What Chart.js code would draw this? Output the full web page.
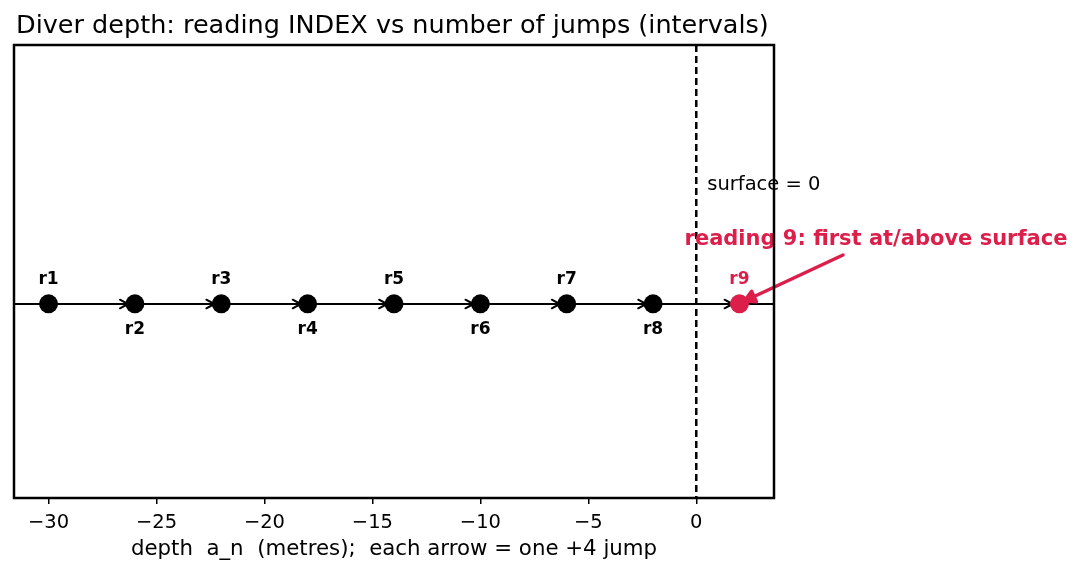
<!DOCTYPE html>
<html>
<head>
<meta charset="utf-8">
<script src="https://cdn.jsdelivr.net/npm/chart.js@4"></script>
<style>
  body { margin: 0; background: #fff; }
  #wrap { width: 1084px; height: 574px; }
</style>
</head>
<body>
<div id="wrap"><canvas id="myChart" width="1084" height="574"></canvas></div>
<script>
// readings: depth of the diver at each reading
var depths = [-30, -26, -22, -18, -14, -10, -6, -2, 2];
var readingNames = ['r1', 'r2', 'r3', 'r4', 'r5', 'r6', 'r7', 'r8', 'r9'];
var tickValues = [-30, -25, -20, -15, -10, -5, 0];
var surfaceLevel = 0;
var highlightIndex = 8;

var CRIMSON = '#dc1e4b';

var points = depths.map(function (d) { return { x: d, y: 0 }; });
var colours = depths.map(function (d, i) { return i === highlightIndex ? CRIMSON : '#000'; });

function arrow(ctx, x1, y1, x2, y2, head, width, colour, filled) {
  var a = Math.atan2(y2 - y1, x2 - x1);
  ctx.save();
  ctx.strokeStyle = colour;
  ctx.fillStyle = colour;
  ctx.lineWidth = width;
  ctx.lineCap = 'round';
  ctx.lineJoin = 'round';
  ctx.beginPath();
  ctx.moveTo(x1, y1);
  ctx.lineTo(x2, y2);
  ctx.stroke();
  ctx.beginPath();
  ctx.moveTo(x2 - head * Math.cos(a - 0.5), y2 - head * Math.sin(a - 0.5));
  ctx.lineTo(x2, y2);
  ctx.lineTo(x2 - head * Math.cos(a + 0.5), y2 - head * Math.sin(a + 0.5));
  if (filled) { ctx.closePath(); ctx.fill(); }
  ctx.stroke();
  ctx.restore();
}

var decorPlugin = {
  id: 'decor',
  beforeDatasetsDraw: function (chart) {
    var ctx = chart.ctx, area = chart.chartArea;
    var xs = chart.scales.x, ys = chart.scales.y;
    var y0 = Math.round(ys.getPixelForValue(0));

    // horizontal line at 0
    ctx.save();
    ctx.strokeStyle = '#000';
    ctx.lineWidth = 1.8;
    ctx.beginPath();
    ctx.moveTo(area.left, y0);
    ctx.lineTo(area.right, y0);
    ctx.stroke();

    // surface line
    var xs0 = xs.getPixelForValue(surfaceLevel);
    ctx.lineWidth = 2.5;
    ctx.setLineDash([7, 4]);
    ctx.beginPath();
    ctx.moveTo(xs0, area.top);
    ctx.lineTo(xs0, area.bottom);
    ctx.stroke();
    ctx.restore();

    // jump arrows
    for (var i = 0; i < depths.length - 1; i++) {
      var a = xs.getPixelForValue(depths[i]) + 9;
      var b = xs.getPixelForValue(depths[i + 1]) - 7;
      arrow(ctx, a, y0, b, y0, 9, 2, '#000', false);
    }
  },
  afterDatasetsDraw: function (chart) {
    var ctx = chart.ctx, area = chart.chartArea;
    var xs = chart.scales.x, ys = chart.scales.y;
    var y0 = Math.round(ys.getPixelForValue(0));

    // reading labels
    ctx.save();
    ctx.font = 'bold 17px "DejaVu Sans"';
    ctx.textAlign = 'center';
    ctx.textBaseline = 'middle';
    depths.forEach(function (d, i) {
      ctx.fillStyle = i === highlightIndex ? CRIMSON : '#000';
      var px = xs.getPixelForValue(d);
      var py = (i % 2 === 0) ? y0 - 24 : y0 + 26;
      ctx.fillText(readingNames[i], px, py);
    });

    // surface text
    ctx.fillStyle = '#000';
    ctx.font = '19.5px "DejaVu Sans"';
    ctx.textAlign = 'left';
    ctx.fillText('surface = 0', xs.getPixelForValue(surfaceLevel) + 11, 185);

    // annotation
    var hx = xs.getPixelForValue(depths[highlightIndex]);
    arrow(ctx, 843, 255, hx + 5, y0 - 3, 12, 3.5, CRIMSON, true);
    ctx.fillStyle = CRIMSON;
    ctx.font = 'bold 21px "DejaVu Sans"';
    ctx.textAlign = 'center';
    ctx.fillText('reading 9: first at/above surface', 876, 240);

    // frame
    ctx.strokeStyle = '#000';
    ctx.lineWidth = 2.5;
    ctx.strokeRect(area.left, area.top, area.right - area.left, area.bottom - area.top);

    // title and x label
    ctx.fillStyle = '#000';
    ctx.font = '25.5px "DejaVu Sans"';
    ctx.textAlign = 'left';
    ctx.fillText('Diver depth: reading INDEX vs number of jumps (intervals)', 16, 26);
    ctx.font = '21.3px "DejaVu Sans"';
    ctx.textAlign = 'center';
    ctx.fillText('depth  a_n  (metres);  each arrow = one +4 jump', 394, 549);
    ctx.restore();
  }
};

var ctx = document.getElementById('myChart').getContext('2d');
var chart = new Chart(ctx, {
  type: 'scatter',
  data: {
    datasets: [{
      data: points,
      pointRadius: 9.5,
      pointHoverRadius: 9.5,
      pointBackgroundColor: colours,
      pointBorderColor: colours,
      pointBorderWidth: 0
    }]
  },
  options: {
    responsive: false,
    animation: false,
    devicePixelRatio: 1,
    layout: { padding: { left: 14, right: 310, top: 45, bottom: 0 } },
    plugins: { legend: { display: false }, tooltip: { enabled: false } },
    scales: {
      x: {
        type: 'linear',
        min: -31.6,
        max: 3.6,
        afterFit: function (scale) { scale.height = 76; },
        afterBuildTicks: function (scale) {
          scale.ticks = tickValues.map(function (v) { return { value: v }; });
        },
        border: { display: false },
        grid: { drawOnChartArea: false, drawTicks: true, tickLength: 6, color: '#000', lineWidth: 1.5 },
        ticks: {
          color: '#000',
          padding: 7,
          maxRotation: 0,
          font: { family: '"DejaVu Sans"', size: 19.5 },
          callback: function (v) { return v < 0 ? '\u2212' + Math.abs(v) : String(v); }
        }
      },
      y: { display: false, min: -0.6, max: 0.8 }
    }
  },
  plugins: [decorPlugin]
});
</script>
</body>
</html>
